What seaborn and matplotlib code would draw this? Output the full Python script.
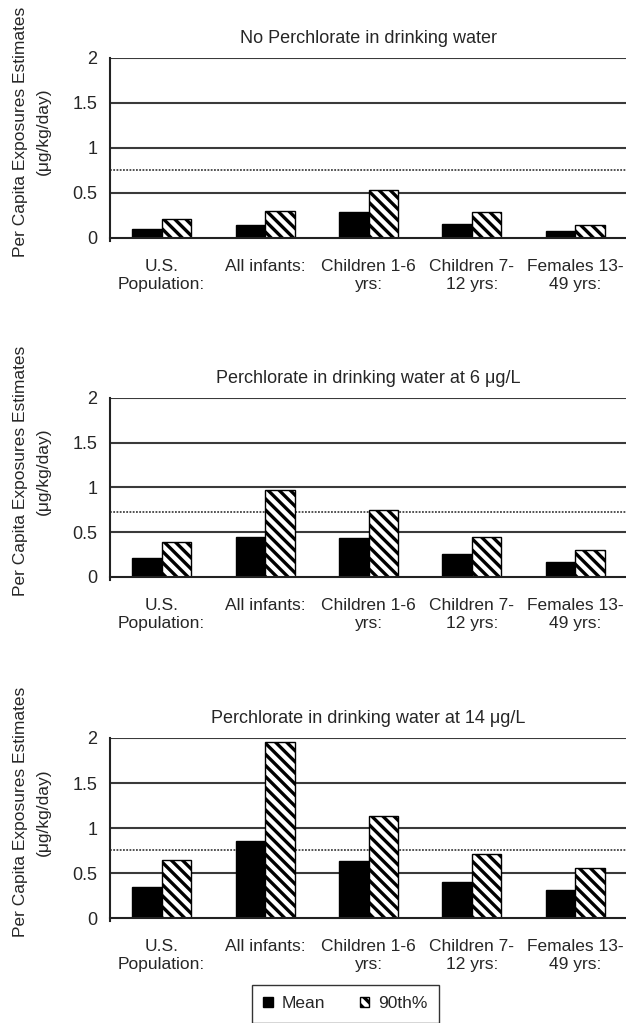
import matplotlib
matplotlib.use("Agg")
import matplotlib.pyplot as plt
from matplotlib.patches import Patch
import pandas as pd
import seaborn as sns

groups = ["U.S.\nPopulation:", "All infants:", "Children 1-6\nyrs:", "Children 7-\n12 yrs:", "Females 13-\n49 yrs:"]
stats = ["Mean", "90th%"]

titles = [
    "No Perchlorate in drinking water",
    "Perchlorate in drinking water at 6 μg/L",
    "Perchlorate in drinking water at 14 μg/L",
]

mean_none = [0.10, 0.14, 0.29, 0.15, 0.08]
p90_none = [0.21, 0.30, 0.53, 0.29, 0.14]

mean_6 = [0.21, 0.45, 0.44, 0.26, 0.17]
p90_6 = [0.39, 0.97, 0.75, 0.45, 0.30]

mean_14 = [0.35, 0.86, 0.63, 0.40, 0.31]
p90_14 = [0.645, 1.96, 1.13, 0.71, 0.56]

ref_lines = [0.75, 0.73, 0.76]

yticks = [0, 0.5, 1, 1.5, 2]
ytick_labels = ["0", "0.5", "1", "1.5", "2"]

ylabel = "Per Capita Exposures Estimates\n(μg/kg/day)"

HATCH = "\\\\\\"


def make_frame(means, p90s):
    rows = []
    for g, m, p in zip(groups, means, p90s):
        rows.append({"group": g, "stat": "Mean", "value": m})
        rows.append({"group": g, "stat": "90th%", "value": p})
    return pd.DataFrame(rows)


def draw_panel(ax, df, title, ref):
    for y in yticks[1:]:
        ax.axhline(y, color="#3a3a3a", lw=1.5, zorder=0)
    ax.axhline(ref, color="#444444", lw=1.3, ls=(0, (1, 0.8)), zorder=0.5)

    sns.barplot(
        data=df, x="group", y="value", hue="stat", hue_order=stats,
        palette=["black", "white"], edgecolor="black", linewidth=1.0,
        width=0.57, ax=ax, legend=False, zorder=2,
    )
    for bar in ax.containers[1]:
        bar.set_hatch(HATCH)

    ax.set_xlim(-0.5, 4.5)
    ax.set_ylim(0, 2)
    ax.set_yticks(yticks)
    ax.set_yticklabels(ytick_labels)
    ax.set_xticks(range(len(groups)))
    ax.set_xticklabels(groups, linespacing=1.3)
    ax.set_xticks([i - 0.5 for i in range(len(groups))], minor=True)
    ax.tick_params(axis="x", which="major", length=0, pad=15, labelsize=12.5)
    ax.tick_params(axis="x", which="minor", length=5, width=1.2, color="#333333", direction="out")
    ax.tick_params(axis="y", length=5, width=1.2, color="#333333", labelsize=13, pad=4)
    ax.set_xlabel("")
    ax.set_ylabel(ylabel, fontsize=12.5, linespacing=1.6)
    ax.yaxis.set_label_coords(-0.115, 0.59)
    ax.set_title(title, fontsize=13, pad=11)

    for side in ["top", "right"]:
        ax.spines[side].set_visible(False)
    ax.spines["left"].set_color("#222222")
    ax.spines["left"].set_linewidth(1.5)
    ax.spines["left"].set_bounds(-0.03, 2)
    ax.spines["bottom"].set_color("#222222")
    ax.spines["bottom"].set_linewidth(1.5)
    ax.set_facecolor("white")


sns.set_theme(style="white")
plt.rcParams["font.family"] = ["Liberation Sans", "DejaVu Sans"]
plt.rcParams["hatch.linewidth"] = 2.4
plt.rcParams["hatch.color"] = "black"

fig = plt.figure(figsize=(6.26, 10.23), dpi=100)
fig.patch.set_facecolor("white")

panels = [
    (make_frame(mean_none, p90_none), [0.1757, 0.7674, 0.826, 0.1760]),
    (make_frame(mean_6, p90_6), [0.1757, 0.4360, 0.826, 0.1750]),
    (make_frame(mean_14, p90_14), [0.1757, 0.1026, 0.826, 0.1760]),
]

for (df, rect), title, ref in zip(panels, titles, ref_lines):
    ax = fig.add_axes(rect)
    draw_panel(ax, df, title, ref)

handles = [
    Patch(facecolor="black", edgecolor="black", label="Mean"),
    Patch(facecolor="white", edgecolor="black", hatch=HATCH, label="90th%"),
]
leg = fig.legend(
    handles=handles, loc="upper center", bbox_to_anchor=(345.5 / 626, 1 - 985 / 1023), ncol=2,
    fontsize=12.5, frameon=True, fancybox=False, edgecolor="black",
    handlelength=0.55, handleheight=0.55, handletextpad=0.5, columnspacing=2.0,
    borderpad=0.65, borderaxespad=0,
)
leg.get_frame().set_linewidth(1.0)

fig.savefig("out.png", dpi=100, facecolor="white")
